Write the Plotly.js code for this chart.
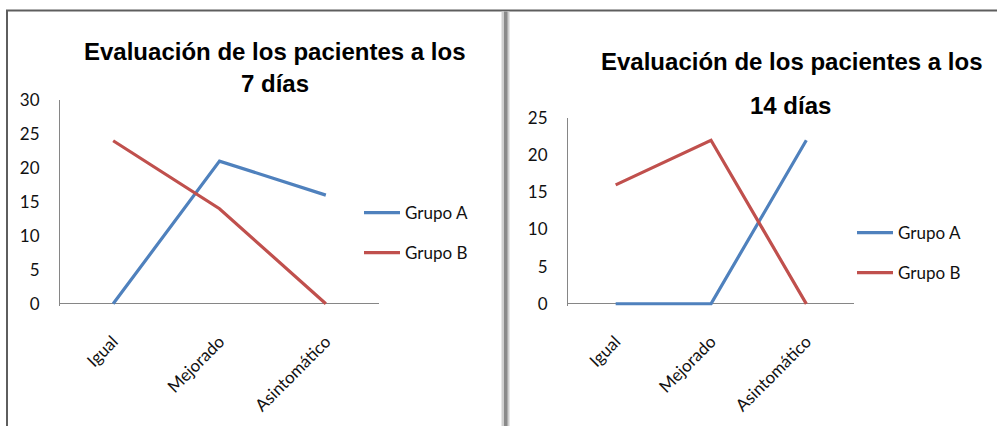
<!DOCTYPE html>
<html>
<head>
<meta charset="utf-8">
<script src="https://cdn.plot.ly/plotly-3.0.1.min.js"></script>
<style>
html,body{margin:0;padding:0;background:#fff;}
#chart{width:997px;height:426px;}
</style>
</head>
<body>
<div id="chart"></div>
<script>
// ---- data ----
const categories = ['Igual', 'Mejorado', 'Asintomático'];
const seriesNames = ['Grupo A', 'Grupo B'];
const grupoA_7dias = [0, 21, 16];
const grupoB_7dias = [24, 14, 0];
const grupoA_14dias = [0, 0, 22];
const grupoB_14dias = [16, 22, 0];
const yTicks7 = [0, 5, 10, 15, 20, 25, 30];
const yTicks14 = [0, 5, 10, 15, 20, 25];
const titleLines7 = ['Evaluación de los pacientes a los', '7 días'];
const titleLines14 = ['Evaluación de los pacientes a los', '14 días'];

// ---- geometry helpers (pixels -> paper) ----
const W = 997, H = 426;
const px = v => v / W;
const py = v => 1 - v / H;

const blue = '#4F81BD';
const red = '#C0504D';
const tickFont = {family: 'Lato, "Open Sans", sans-serif', size: 17, color: '#111'};
const titleFont = {family: '"Liberation Sans", Arial, sans-serif', size: 24, color: '#000', weight: 'bold'};

function trace(y, name, color, xa, ya, legend) {
  return {
    x: categories, y: y, name: name, type: 'scatter', mode: 'lines',
    line: {color: color, width: 3.2},
    xaxis: xa, yaxis: ya, legend: legend, legendgroup: legend + name,
    hoverinfo: 'skip'
  };
}

const data = [
  trace(grupoA_7dias, seriesNames[0], blue, 'x', 'y', 'legend'),
  trace(grupoB_7dias, seriesNames[1], red, 'x', 'y', 'legend'),
  trace(grupoA_14dias, seriesNames[0], blue, 'x2', 'y2', 'legend2'),
  trace(grupoB_14dias, seriesNames[1], red, 'x2', 'y2', 'legend2')
];

function xaxis(domain, anchor) {
  return {
    domain: domain, anchor: anchor, type: 'category',
    range: [-0.5, 2.5], showline: false, showgrid: false, zeroline: false,
    ticks: '', tickangle: -45, tickfont: tickFont, ticklabelstandoff: 22,
    layer: 'below traces', fixedrange: true
  };
}
function yaxis(domain, anchor, rng, tv) {
  return {
    domain: domain, anchor: anchor, range: rng, tickvals: tv,
    showline: true, linecolor: '#868686', linewidth: 1,
    showgrid: false, zeroline: true, zerolinecolor: '#868686', zerolinewidth: 1,
    ticks: '', tickfont: tickFont, ticklabelstandoff: 16,
    layer: 'below traces', fixedrange: true
  };
}

const legendBase = {
  font: tickFont, bgcolor: 'rgba(0,0,0,0)', borderwidth: 0,
  xanchor: 'left', yanchor: 'top', traceorder: 'grouped', tracegroupgap: 15,
  itemwidth: 36, itemclick: false, itemdoubleclick: false
};

const layout = {
  width: W, height: H,
  margin: {l: 0, r: 0, t: 0, b: 0},
  paper_bgcolor: '#fff', plot_bgcolor: 'rgba(0,0,0,0)',
  showlegend: true,
  xaxis: xaxis([px(60), px(379)], 'y'),
  yaxis: yaxis([py(305.5), py(100)], 'x', [-0.25, 30], yTicks7),
  xaxis2: xaxis([px(568), px(854)], 'y2'),
  yaxis2: yaxis([py(305.5), py(118)], 'x2', [-0.22, 25], yTicks14),
  legend: Object.assign({}, legendBase, {x: px(359), y: py(195)}),
  legend2: Object.assign({}, legendBase, {x: px(852), y: py(215)}),
  annotations: [
    {text: titleLines7[0], x: px(274), y: py(52), xref: 'paper', yref: 'paper', showarrow: false, xanchor: 'center', yanchor: 'middle', font: titleFont},
    {text: titleLines7[1], x: px(275), y: py(83), xref: 'paper', yref: 'paper', showarrow: false, xanchor: 'center', yanchor: 'middle', font: titleFont},
    {text: titleLines14[0], x: px(791), y: py(62), xref: 'paper', yref: 'paper', showarrow: false, xanchor: 'center', yanchor: 'middle', font: titleFont},
    {text: titleLines14[1], x: px(790), y: py(105), xref: 'paper', yref: 'paper', showarrow: false, xanchor: 'center', yanchor: 'middle', font: titleFont}
  ],
  shapes: [
    // frame: top and left border
    {type: 'line', xref: 'paper', yref: 'paper', x0: px(6), x1: 1, y0: py(10.5), y1: py(10.5), line: {color: '#5e5e5e', width: 2}},
    {type: 'line', xref: 'paper', yref: 'paper', x0: px(7), x1: px(7), y0: py(10), y1: 0, line: {color: '#5e5e5e', width: 2}},
    // divider between the two charts
    {type: 'rect', xref: 'paper', yref: 'paper', x0: px(501.5), x1: px(509.5), y0: py(11.5), y1: 0, fillcolor: '#cfcfcf', line: {width: 0}},
    {type: 'rect', xref: 'paper', yref: 'paper', x0: px(504), x1: px(507.5), y0: py(11.5), y1: 0, fillcolor: '#8a8a8a', line: {width: 0}}
  ]
};

Plotly.newPlot('chart', data, layout, {staticPlot: true, displayModeBar: false});
</script>
</body>
</html>
